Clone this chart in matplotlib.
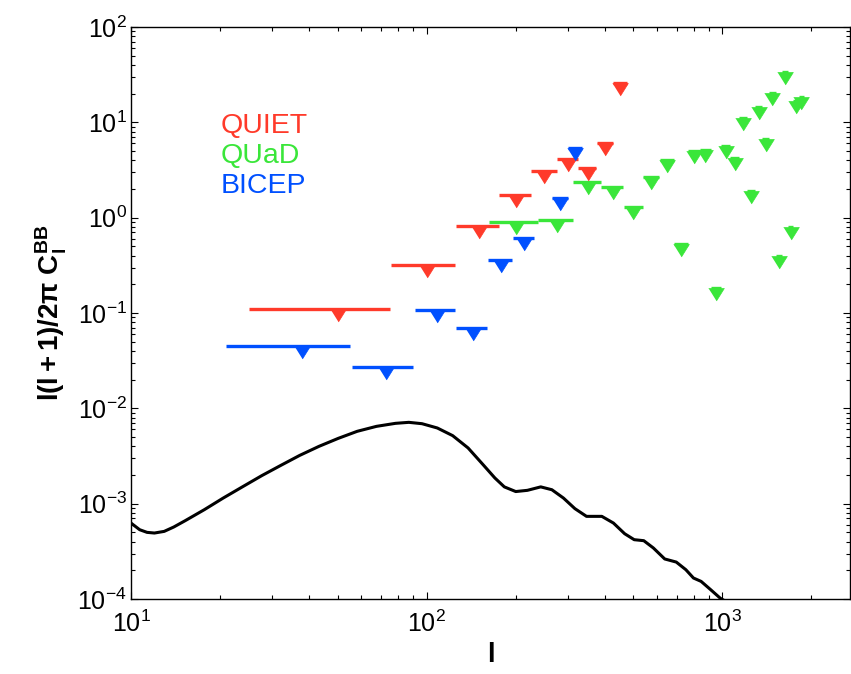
import numpy as np
import matplotlib
matplotlib.use('Agg')
import matplotlib.pyplot as plt

# Helvetica-like fonts everywhere, including the math tick labels
plt.rcParams['font.family'] = ['Liberation Sans', 'DejaVu Sans']
plt.rcParams['mathtext.fontset'] = 'custom'
plt.rcParams['mathtext.rm'] = 'Liberation Sans'
plt.rcParams['mathtext.it'] = 'Liberation Sans:italic'
plt.rcParams['mathtext.bf'] = 'Liberation Sans:bold'

# QUIET upper limits (bins of width 50)
quiet_l = np.array([50, 100, 150, 200, 250, 300, 350, 400, 450])
quiet_lmin = np.array([25, 76, 126, 176, 226, 276, 326, 376, 426])
quiet_lmax = np.array([75, 125, 175, 225, 275, 325, 375, 425, 475])
quiet_bb = np.array([0.110, 0.318, 0.82, 1.73, 3.09, 4.12, 3.32, 6.07, 25.9])

# BICEP upper limits
bicep_l = np.array([38, 73, 108, 143, 178, 213, 283, 318])
bicep_lmin = np.array([21, 56, 91, 126, 161, 196, 266, 301])
bicep_lmax = np.array([55, 90, 125, 160, 195, 230, 300, 335])
bicep_bb = np.array([0.0451, 0.0271, 0.107, 0.0696, 0.360, 0.612, 1.61, 5.38])

# QUaD upper limits
quad_l = np.array([200, 275, 350, 425, 500, 575, 650, 725, 800, 875, 950, 1025,
                   1100, 1175, 1250, 1325, 1400, 1475, 1550, 1625, 1700, 1775, 1850])
quad_lmin = np.array([163, 238, 313, 388, 463, 538, 613, 688, 763, 838, 913, 988,
                      1063, 1138, 1213, 1288, 1363, 1438, 1513, 1588, 1663, 1738, 1813])
quad_lmax = np.array([237, 312, 387, 462, 537, 612, 687, 762, 837, 912, 987, 1062,
                      1137, 1212, 1287, 1362, 1437, 1512, 1587, 1662, 1737, 1812, 1887])
quad_bb = np.array([0.90, 0.94, 2.36, 2.10, 1.29, 2.67, 4.03, 0.53, 5.0, 5.13, 0.183, 5.64,
                    4.23, 11.1, 1.91, 14.5, 6.68, 20.3, 0.396, 33.7, 0.80, 16.8, 18.5])

# theory BB spectrum
theory_l = [10.0, 10.7, 11.33, 12.0, 12.95, 13.95, 15.25, 17.7, 20.5, 23.8, 27.7,
            32.1, 37.2, 43.2, 50.2, 58.2, 67.6, 78.4, 87.0, 96.4, 108.6, 122.4,
            138, 155, 170, 183, 200, 219, 243, 265, 290, 317, 347, 391, 428, 467,
            503, 542, 584, 638, 698, 752, 798, 847, 913, 983, 1028]
theory_bb = [6.26e-4, 5.33e-4, 5.0e-4, 4.92e-4, 5.12e-4, 5.69e-4, 6.63e-4, 8.65e-4,
             1.145e-3, 1.50e-3, 1.97e-3, 2.52e-3, 3.21e-3, 3.99e-3, 4.84e-3, 5.74e-3,
             6.47e-3, 6.96e-3, 7.13e-3, 6.90e-3, 6.22e-3, 5.17e-3, 3.84e-3, 2.57e-3,
             1.86e-3, 1.50e-3, 1.34e-3, 1.38e-3, 1.50e-3, 1.40e-3, 1.145e-3, 8.87e-4,
             7.36e-4, 7.36e-4, 6.26e-4, 4.84e-4, 4.19e-4, 4.09e-4, 3.43e-4, 2.63e-4,
             2.44e-4, 2.03e-4, 1.66e-4, 1.53e-4, 1.25e-4, 1.02e-4, 9.4e-5]

red = '#ff3a2a'
green = '#3ae63a'
blue = '#0050ff'

# downward triangle hanging below the limit value
tri = [(-1, 0), (1, 0), (0, -1.6)]

fig = plt.figure(figsize=(8.51, 6.74), dpi=100)
ax = fig.add_axes([131 / 851, 75 / 674, 719 / 851, 572 / 674])


def limits(l, lmin, lmax, bb, color):
    ax.errorbar(l, bb, xerr=[l - lmin, lmax - l], fmt='none', ecolor=color,
                elinewidth=2.4, capsize=0)
    ax.plot(l, bb, ls='none', marker=tri, ms=18, mfc=color, mec=color, mew=0.5)


limits(quad_l, quad_lmin, quad_lmax, quad_bb, green)
limits(quiet_l, quiet_lmin, quiet_lmax, quiet_bb, red)
limits(bicep_l, bicep_lmin, bicep_lmax, bicep_bb, blue)

ax.plot(theory_l, theory_bb, color='black', lw=2.2, solid_joinstyle='round')

ax.set_xscale('log')
ax.set_yscale('log')
ax.set_xlim(10, 2700)
ax.set_ylim(1e-4, 1e2)

ax.tick_params(which='both', direction='in', top=True, right=True, width=0.8,
               labelsize=18)
ax.tick_params(axis='x', which='both', pad=8)
ax.tick_params(axis='y', which='both', pad=3)
ax.tick_params(which='major', length=5)
ax.tick_params(which='minor', length=3)
for s in ax.spines.values():
    s.set_linewidth(1.0)

ax.set_xlabel('l', fontsize=20, fontweight='bold', labelpad=4)
ax.set_ylabel(r'$\mathbf{l(l+1)/2\pi\ C_l^{BB}}$', fontsize=20, labelpad=6)

ax.text(0.124, 0.815, 'QUIET', color=red, fontsize=20.5, transform=ax.transAxes)
ax.text(0.124, 0.762, 'QUaD', color=green, fontsize=20.5, transform=ax.transAxes)
ax.text(0.124, 0.710, 'BICEP', color=blue, fontsize=20.5, transform=ax.transAxes)

plt.savefig('out.png', dpi=100)
